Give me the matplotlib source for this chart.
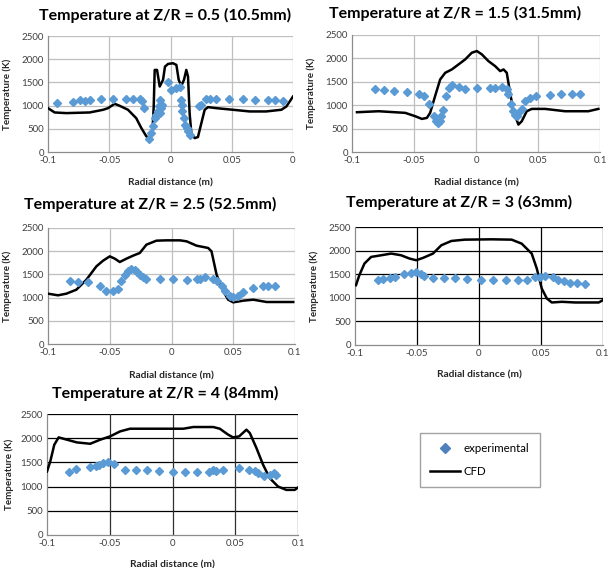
import matplotlib
matplotlib.use("Agg")
import matplotlib.pyplot as plt
from matplotlib.lines import Line2D

plt.rcParams.update({
    "font.family": ["Lato", "DejaVu Sans"],
    "figure.facecolor": "white",
})

BLUE = "#5B9BD5"
LIGHT_GRID = "#BFBFBF"
SPINE = "#8C8C8C"
TICK = "#404040"

# ---- data (radial distance in m, temperature in K) --------------------------
titles = [
    "Temperature at Z/R = 0.5 (10.5mm)",
    "Temperature at Z/R = 1.5 (31.5mm)",
    "Temperature at Z/R = 2.5 (52.5mm)",
    "Temperature at Z/R = 3 (63mm)",
    "Temperature at Z/R = 4 (84mm)",
]
x_ticks = [-0.1, -0.05, 0, 0.05, 0.1]
x_labels_first = ["-0.1", "-0.05", "0", "0.05", "0"]
x_labels = ["-0.1", "-0.05", "0", "0.05", "0.1"]
y_ticks = [0, 500, 1000, 1500, 2000, 2500]

# Z/R = 0.5
cfd1_r = [-0.1, -0.0946, -0.085, -0.066, -0.055, -0.051, -0.0456, -0.0415, -0.0347,
          -0.028, -0.0238, -0.0197, -0.017, -0.0148, -0.0137, -0.0129, -0.011, -0.0088,
          -0.0061, -0.0045, -0.002, 0.002, 0.0048, 0.0067, 0.0088, 0.011, 0.0129, 0.0143,
          0.0156, 0.017, 0.0197, 0.0224, 0.0252, 0.0279, 0.0306, 0.0374, 0.051, 0.0646,
          0.078, 0.0905, 0.0946, 0.1]
cfd1_t = [945, 852, 838, 852, 910, 945, 1039, 996, 910,
          730, 516, 337, 300, 408, 981, 1769, 1769, 1411,
          1555, 1841, 1898, 1913, 1877, 1555, 1425, 1555, 1769, 1626,
          838, 408, 300, 322, 623, 910, 967, 945, 910, 874,
          874, 910, 981, 1196]
exp1_r = [-0.0924, -0.0796, -0.0736, -0.070, -0.066, -0.0565, -0.047, -0.036, -0.0306,
          -0.0252, -0.023, -0.0219, -0.0178, -0.0156, -0.0143, -0.0129, -0.0116, -0.0102,
          -0.0094, -0.0088, -0.0083, -0.0075, -0.007, -0.002, 0.0007, 0.0048, 0.0075,
          0.0088, 0.0094, 0.0097, 0.011, 0.0121, 0.0135, 0.0143, 0.0156, 0.0233, 0.0252,
          0.0292, 0.032, 0.0374, 0.048, 0.059, 0.0687, 0.0796, 0.085, 0.0918]
exp1_t = [1053, 1067, 1125, 1089, 1110, 1146, 1146, 1139, 1146,
          1139, 1089, 945, 279, 408, 552, 730, 802, 874,
          981, 1125, 838, 945, 1017, 1504, 1340, 1375, 1397,
          1125, 1017, 874, 730, 588, 516, 444, 373, 981, 1017,
          1139, 1146, 1146, 1146, 1146, 1125, 1110, 1125, 1103]

# Z/R = 1.5
cfd2_r = [-0.096, -0.0785, -0.057, -0.049, -0.0436, -0.0396, -0.037, -0.033, -0.0289,
          -0.0248, -0.0195, -0.0141, -0.0087, -0.0034, 0.0007, 0.0047, 0.010, 0.0154,
          0.0195, 0.0222, 0.0248, 0.0275, 0.0302, 0.0342, 0.0369, 0.0409, 0.045, 0.0557,
          0.0718, 0.0906, 0.0987]
cfd2_t = [850, 871, 836, 764, 707, 729, 836, 1193, 1550,
          1693, 1764, 1871, 1979, 2121, 2157, 2086, 1943, 1836,
          1729, 1764, 1693, 1264, 871, 586, 657, 871, 921, 921,
          871, 871, 921]
exp2_r = [-0.0817, -0.0745, -0.0664, -0.0557, -0.0463, -0.0423, -0.0383, -0.0342, -0.0321,
          -0.0307, -0.0294, -0.028, -0.0267, -0.0243, -0.0221, -0.0195, -0.0141, -0.0087,
          0.0007, 0.0114, 0.0154, 0.0208, 0.0248, 0.0262, 0.028, 0.0302, 0.0315, 0.0329,
          0.0342, 0.0369, 0.0396, 0.0436, 0.0482, 0.0597, 0.0686, 0.0772, 0.0839]
exp2_t = [1336, 1321, 1300, 1279, 1243, 1207, 1036, 764, 657,
          621, 657, 764, 907, 1193, 1371, 1421, 1393, 1350,
          1371, 1371, 1371, 1386, 1336, 1229, 1036, 871, 800, 764,
          836, 921, 1086, 1157, 1193, 1214, 1250, 1250, 1250]

# Z/R = 2.5
cfd3_r = [-0.1, -0.0919, -0.0851, -0.077, -0.0689, -0.0608, -0.0554, -0.05, -0.0459,
          -0.0419, -0.0365, -0.0311, -0.0257, -0.0203, -0.0122, -0.0041, 0.0068, 0.0122,
          0.0203, 0.0257, 0.0297, 0.0324, 0.0365, 0.0419, 0.0459, 0.05, 0.0581, 0.0662,
          0.077, 0.0986]
cfd3_t = [1085, 1049, 1085, 1171, 1386, 1674, 1796, 1889, 1839,
          1767, 1839, 1904, 1961, 2141, 2227, 2234, 2234, 2213,
          2119, 2091, 2069, 1997, 1494, 1135, 955, 898, 934, 955,
          905, 905]
exp3_r = [-0.0819, -0.0757, -0.0676, -0.0581, -0.0527, -0.0473, -0.0432, -0.0405, -0.0378,
          -0.0351, -0.0324, -0.0297, -0.0278, -0.0257, -0.023, -0.0203, -0.0095, 0.0014,
          0.0122, 0.0203, 0.023, 0.027, 0.0338, 0.0365, 0.0405, 0.0432, 0.0473, 0.05,
          0.054, 0.0581, 0.0662, 0.0743, 0.0784, 0.0838]
exp3_t = [1365, 1336, 1336, 1243, 1149, 1149, 1193, 1351, 1480,
          1580, 1624, 1602, 1552, 1494, 1437, 1408, 1401, 1394,
          1379, 1401, 1401, 1437, 1408, 1365, 1243, 1135, 1042, 1006,
          1027, 1121, 1207, 1243, 1243, 1243]

# Z/R = 3
cfd4_r = [-0.0992, -0.0965, -0.0924, -0.087, -0.0789, -0.0708, -0.0628, -0.056, -0.0506,
          -0.0452, -0.0371, -0.0304, -0.0223, -0.0115, 0.0101, 0.0263, 0.0344, 0.0425,
          0.0466, 0.0506, 0.0547, 0.0587, 0.0668, 0.0776, 0.0965, 0.1]
cfd4_t = [1268, 1479, 1725, 1866, 1901, 1937, 1901, 1831, 1796,
          1845, 1937, 2113, 2204, 2232, 2239, 2232, 2148, 1937,
          1620, 1197, 986, 901, 915, 901, 901, 951]
exp4_r = [-0.0816, -0.0771, -0.0714, -0.0676, -0.0606, -0.0552, -0.0506, -0.0471, -0.0444,
          -0.0371, -0.0282, -0.0196, -0.0093, 0.0015, 0.0115, 0.0215, 0.0317, 0.0385,
          0.0452, 0.0493, 0.0533, 0.06, 0.0641, 0.0682, 0.0736, 0.0789, 0.0851]
exp4_t = [1373, 1408, 1430, 1444, 1514, 1535, 1549, 1514, 1465,
          1423, 1423, 1423, 1394, 1373, 1373, 1373, 1373, 1387,
          1444, 1444, 1465, 1444, 1387, 1352, 1317, 1317, 1296]

# Z/R = 4
cfd5_r = [-0.1, -0.0974, -0.0942, -0.0907, -0.0841, -0.0762, -0.0656, -0.0576, -0.0497,
          -0.0417, -0.0338, -0.0179, 0.0086, 0.0166, 0.0325, 0.0377, 0.0444, 0.0483,
          0.0531, 0.0589, 0.0616, 0.0669, 0.0722, 0.0775, 0.0841, 0.0907, 0.0974, 0.1]
cfd5_t = [1312, 1519, 1865, 2017, 1969, 1913, 1885, 1969, 2038,
          2141, 2196, 2196, 2196, 2231, 2231, 2196, 2072, 2017,
          2038, 2176, 2107, 1796, 1450, 1174, 1001, 932, 932, 981]
exp5_r = [-0.0828, -0.0767, -0.0656, -0.0609, -0.0583, -0.0556, -0.051, -0.047, -0.0378,
          -0.0291, -0.0205, -0.0105, 0.0007, 0.01, 0.0192, 0.0293, 0.0319, 0.0346,
          0.0399, 0.0531, 0.061, 0.0656, 0.0682, 0.073, 0.078, 0.0807, 0.0828]
exp5_t = [1298, 1354, 1402, 1416, 1450, 1478, 1499, 1464, 1347,
          1347, 1347, 1312, 1298, 1298, 1298, 1298, 1347, 1312,
          1347, 1381, 1333, 1312, 1278, 1229, 1243, 1278, 1243]

cfd_r = [cfd1_r, cfd2_r, cfd3_r, cfd4_r, cfd5_r]
cfd_t = [cfd1_t, cfd2_t, cfd3_t, cfd4_t, cfd5_t]
exp_r = [exp1_r, exp2_r, exp3_r, exp4_r, exp5_r]
exp_t = [exp1_t, exp2_t, exp3_t, exp4_t, exp5_t]

# ---- layout (pixel boxes: x0, x1, y_top, y_bottom) ---------------------------
W, H = 610, 568
boxes = [(48, 293, 36, 152), (352, 600, 35, 152), (48, 295, 228, 344),
         (355, 603, 227, 345), (47, 298, 414, 535)]
title_pos = [(165, 15), (455, 13), (150, 204), (459, 202), (165, 393)]
xlabel_y = [183, 183, 376, 375, 565]
ylabel_x = [7, 311, 7, 314, 9]
hgrid = [LIGHT_GRID, LIGHT_GRID, LIGHT_GRID, "black", "black"]
vgrid = [LIGHT_GRID, LIGHT_GRID, LIGHT_GRID, "black", "#303030"]

fig = plt.figure(figsize=(W / 100, H / 100), dpi=100)

for i in range(5):
    x0, x1, yt, yb = boxes[i]
    ax = fig.add_axes([x0 / W, 1 - yb / H, (x1 - x0) / W, (yb - yt) / H])
    ax.plot(cfd_r[i], cfd_t[i], color="black", lw=1.8, zorder=3)
    ax.plot(exp_r[i], exp_t[i], ls="none", marker="D", ms=3.8, color=BLUE,
            markeredgecolor=BLUE, zorder=4)
    ax.set_xlim(-0.1, 0.1)
    ax.set_ylim(0, 2500)
    ax.set_xticks(x_ticks)
    ax.set_xticklabels(x_labels_first if i == 0 else x_labels)
    ax.set_yticks(y_ticks)
    for v in y_ticks[1:]:
        ax.axhline(v, color=hgrid[i], lw=0.9, zorder=1)
    for v in x_ticks[1:]:
        ax.axvline(v, color=vgrid[i], lw=0.9, zorder=1)
    for s in ["top", "right"]:
        ax.spines[s].set_visible(False)
    for s in ["left", "bottom"]:
        ax.spines[s].set_color(SPINE)
        ax.spines[s].set_linewidth(0.9)
    ax.tick_params(length=0, labelsize=7, colors=TICK, pad=3)
    fig.text(title_pos[i][0] / W, 1 - title_pos[i][1] / H, titles[i],
             ha="center", va="center", fontsize=11.5, fontweight="bold")
    fig.text((x0 + x1) / 2 / W, 1 - xlabel_y[i] / H, "Radial distance (m)",
             ha="center", va="center", fontsize=7.3, fontweight="bold", color="#262626")
    fig.text(ylabel_x[i] / W, 1 - (yt + yb) / 2 / H, "Temperature (K)",
             ha="center", va="center", rotation=90, fontsize=7,
             fontweight="bold", color="#262626")

handles = [Line2D([], [], ls="none", marker="D", ms=5, color="#4F81BD"),
           Line2D([], [], color="black", lw=1.8)]
leg = fig.legend(handles, ["experimental", "CFD"],
                 loc="upper left", bbox_to_anchor=(420 / W, 1 - 433 / H),
                 borderaxespad=0, frameon=True, fancybox=False, fontsize=8.3,
                 handlelength=2.6, borderpad=0.9, labelspacing=1.0, handletextpad=0.3)
leg.get_frame().set_edgecolor("#8C8C8C")
leg.get_frame().set_linewidth(1.0)

fig.savefig("out.png", dpi=100)
